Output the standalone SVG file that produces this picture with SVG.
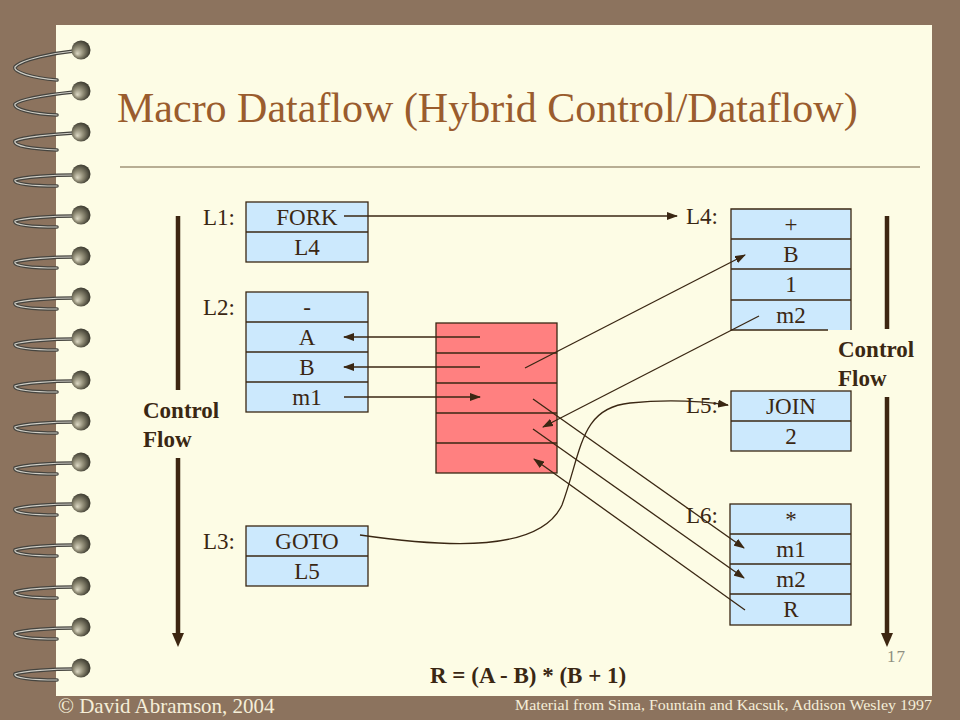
<svg xmlns="http://www.w3.org/2000/svg" xmlns:xlink="http://www.w3.org/1999/xlink" width="960" height="720" viewBox="0 0 960 720">
<style>
.t{font-family:"Liberation Serif","Times New Roman",serif;fill:#3a2713;font-size:23px}
.c{text-anchor:middle}
.b{font-weight:bold}
.cell{fill:#cce9fd;stroke:#3a2713;stroke-width:1.3}
.red{fill:#ff8080;stroke:#3a2713;stroke-width:1.3}
.dv{stroke:#3a2713;stroke-width:1.3}
.ar{fill:none;stroke:#3a2713;stroke-width:1.3;marker-end:url(#ah)}
.cf{stroke:#3d2611;stroke-width:4.5;fill:none}
.w1{fill:none;stroke:#45443f;stroke-width:3.6;stroke-linecap:round}
.w2{fill:none;stroke:#cfcec6;stroke-width:1.2;stroke-linecap:round}
</style>
<defs>
<marker id="ah" markerUnits="userSpaceOnUse" markerWidth="11" markerHeight="8" refX="10" refY="4" orient="auto">
<path d="M0,0 L11,4 L0,8 Z" fill="#3a2713"/>
</marker>
<marker id="bh" markerUnits="userSpaceOnUse" markerWidth="14" markerHeight="12" refX="2" refY="6" orient="auto">
<path d="M0,0 L14,6 L0,12 Z" fill="#3d2611"/>
</marker>
<radialGradient id="ball" cx="0.45" cy="0.5" r="0.6" fx="0.3" fy="0.7">
<stop offset="0" stop-color="#dcd8c4"/>
<stop offset="0.45" stop-color="#8c8872"/>
<stop offset="1" stop-color="#2a2920"/>
</radialGradient>
<g id="rA"><path class="w1" d="M74,1 C55,3 22,9 15,17 C13,22 32,28 57,30"/><path class="w2" d="M74,1 C55,3 22,9 15,17 C13,22 32,28 57,30"/><circle cx="81" cy="0" r="9.5" fill="url(#ball)"/></g>
<g id="rB"><path class="w1" d="M74,1 C55,3 22,7 15,13 C13,18 32,23 57,24"/><path class="w2" d="M74,1 C55,3 22,7 15,13 C13,18 32,23 57,24"/><circle cx="81" cy="0" r="9.5" fill="url(#ball)"/></g>
<g id="rC"><path class="w1" d="M74,1 C55,2 22,5 15,9 C13,14 32,17 57,18"/><path class="w2" d="M74,1 C55,2 22,5 15,9 C13,14 32,17 57,18"/><circle cx="81" cy="0" r="9.5" fill="url(#ball)"/></g>
<g id="rD"><path class="w1" d="M74,1 C55,1 22,3 15,6 C13,10 32,12 57,12"/><path class="w2" d="M74,1 C55,1 22,3 15,6 C13,10 32,12 57,12"/><circle cx="81" cy="0" r="9.5" fill="url(#ball)"/></g>
</defs>

<rect x="0" y="0" width="960" height="720" fill="#8c735e"/>
<rect x="56" y="25" width="876" height="671" fill="#fdfce5"/>

<g id="binding">
<use xlink:href="#rA" y="50"/>
<use xlink:href="#rB" y="91"/>
<use xlink:href="#rC" y="132"/>
<use xlink:href="#rD" y="174"/>
<use xlink:href="#rD" y="215"/>
<use xlink:href="#rD" y="256"/>
<use xlink:href="#rD" y="297"/>
<use xlink:href="#rD" y="338"/>
<use xlink:href="#rD" y="380"/>
<use xlink:href="#rD" y="421"/>
<use xlink:href="#rD" y="462"/>
<use xlink:href="#rD" y="503"/>
<use xlink:href="#rD" y="544"/>
<use xlink:href="#rD" y="586"/>
<use xlink:href="#rD" y="627"/>
<use xlink:href="#rD" y="668"/>
</g>

<g id="title">
<text x="117" y="122" font-family="Liberation Serif, Times New Roman, serif" font-size="42" fill="#9a5c2e">Macro Dataflow (Hybrid Control/Dataflow)</text>
<line x1="120" y1="167" x2="920" y2="167" stroke="#a09478" stroke-width="1.5"/>
</g>

<g id="controlflow-left">
<line class="cf" x1="178" y1="216" x2="178" y2="390"/>
<line class="cf" x1="178" y1="458" x2="178" y2="635" marker-end="url(#bh)"/>
<text class="t b" x="143" y="418">Control</text>
<text class="t b" x="143" y="447">Flow</text>
</g>

<g id="controlflow-right">
<line class="cf" x1="887" y1="216" x2="887" y2="329"/>
<line class="cf" x1="887" y1="397" x2="887" y2="635" marker-end="url(#bh)"/>
<text class="t b" x="838" y="357">Control</text>
<text class="t b" x="838" y="386">Flow</text>
</g>

<g id="L1">
<text class="t" x="203" y="225">L1:</text>
<rect class="cell" x="246" y="202" width="122" height="60"/>
<line class="dv" x1="246" y1="232" x2="368" y2="232"/>
<text class="t c" x="307" y="225">FORK</text>
<text class="t c" x="307" y="255">L4</text>
</g>

<g id="L2">
<text class="t" x="203" y="315">L2:</text>
<rect class="cell" x="246" y="292" width="122" height="120"/>
<line class="dv" x1="246" y1="322" x2="368" y2="322"/>
<line class="dv" x1="246" y1="352" x2="368" y2="352"/>
<line class="dv" x1="246" y1="382" x2="368" y2="382"/>
<text class="t c" x="307" y="315">-</text>
<text class="t c" x="307" y="345">A</text>
<text class="t c" x="307" y="375">B</text>
<text class="t c" x="307" y="405">m1</text>
</g>

<g id="L3">
<text class="t" x="203" y="549">L3:</text>
<rect class="cell" x="246" y="526" width="122" height="60"/>
<line class="dv" x1="246" y1="556" x2="368" y2="556"/>
<text class="t c" x="307" y="549">GOTO</text>
<text class="t c" x="307" y="579">L5</text>
</g>

<g id="memory">
<rect class="red" x="436" y="323" width="121" height="150"/>
<line class="dv" x1="436" y1="353" x2="557" y2="353"/>
<line class="dv" x1="436" y1="383" x2="557" y2="383"/>
<line class="dv" x1="436" y1="413" x2="557" y2="413"/>
<line class="dv" x1="436" y1="443" x2="557" y2="443"/>
</g>

<g id="L4">
<text class="t" x="686" y="224">L4:</text>
<rect x="731" y="209" width="120" height="121" fill="#cce9fd"/>
<path d="M828,330 L731,330 L731,209 L851,209 L851,330" fill="none" stroke="#3a2713" stroke-width="1.3"/>
<line class="dv" x1="731" y1="239" x2="851" y2="239"/>
<line class="dv" x1="731" y1="269" x2="851" y2="269"/>
<line class="dv" x1="731" y1="300" x2="851" y2="300"/>
<text class="t c" x="791" y="232">+</text>
<text class="t c" x="791" y="262">B</text>
<text class="t c" x="791" y="292">1</text>
<text class="t c" x="791" y="323">m2</text>
</g>

<g id="L5">
<text class="t" x="686" y="413">L5:</text>
<rect class="cell" x="731" y="391" width="120" height="60"/>
<line class="dv" x1="731" y1="421" x2="851" y2="421"/>
<text class="t c" x="791" y="414">JOIN</text>
<text class="t c" x="791" y="444">2</text>
</g>

<g id="L6">
<text class="t" x="686" y="523">L6:</text>
<rect class="cell" x="730" y="504" width="121" height="121"/>
<line class="dv" x1="730" y1="534" x2="851" y2="534"/>
<line class="dv" x1="730" y1="564" x2="851" y2="564"/>
<line class="dv" x1="730" y1="594" x2="851" y2="594"/>
<text class="t c" x="791" y="527">*</text>
<text class="t c" x="791" y="557">m1</text>
<text class="t c" x="791" y="587">m2</text>
<text class="t c" x="791" y="617">R</text>
</g>

<g id="connectors">
<line class="ar" x1="344" y1="216" x2="677" y2="216"/>
<line class="ar" x1="480" y1="337" x2="344" y2="337"/>
<line class="ar" x1="480" y1="367" x2="344" y2="367"/>
<line class="ar" x1="344" y1="397" x2="480" y2="397"/>
<line class="ar" x1="525" y1="368" x2="745" y2="255"/>
<line class="ar" x1="759" y1="316" x2="543" y2="427"/>
<line class="ar" x1="533" y1="399" x2="744" y2="548"/>
<line class="ar" x1="533" y1="429" x2="744" y2="578"/>
<line class="ar" x1="745" y1="610" x2="534" y2="459"/>
<path class="ar" d="M360,535 C450,548 540,552 562,505 C582,450 580,408 630,403 C670,399 700,401 728,405"/>
</g>

<g id="footer">
<text class="t b" x="430" y="683">R = (A - B) * (B + 1)</text>
<text x="887" y="662" font-family="Liberation Serif, Times New Roman, serif" font-size="17" fill="#8e8e80" letter-spacing="1">17</text>
<text x="58" y="713" font-family="Liberation Serif, Times New Roman, serif" font-size="21" fill="#f5eed8">© David Abramson, 2004</text>
<text x="515" y="710" font-family="Liberation Serif, Times New Roman, serif" font-size="15" fill="#f5eed8" textLength="417" lengthAdjust="spacingAndGlyphs">Material from Sima, Fountain and Kacsuk, Addison Wesley 1997</text>
</g>
</svg>
